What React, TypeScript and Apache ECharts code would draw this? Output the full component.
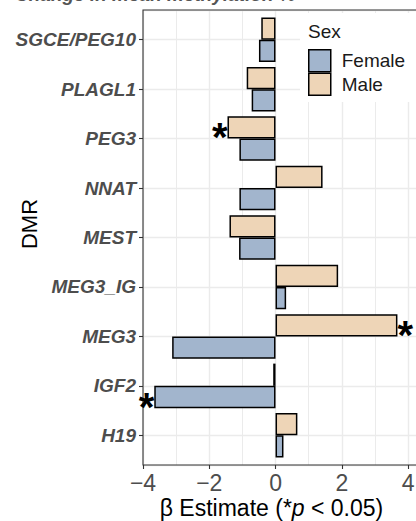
import React, { useEffect, useRef } from 'react';
import * as echarts from 'echarts';

const categories = ['SGCE/PEG10', 'PLAGL1', 'PEG3', 'NNAT', 'MEST', 'MEG3_IG', 'MEG3', 'IGF2', 'H19'];
const femaleValues = [-0.5, -0.72, -1.09, -1.09, -1.1, 0.32, -3.12, -3.66, 0.24];
const maleValues = [-0.43, -0.87, -1.45, 1.42, -1.39, 1.89, 3.68, -0.07, 0.66];
const femaleSignificant = [false, false, false, false, false, false, false, true, false];
const maleSignificant = [false, false, true, false, false, false, true, false, false];
const xTickLabels = [-4, -2, 0, 2, 4];
const legendNames = ['Female', 'Male'];
const titleText = 'Change in mean methylation %';
const yAxisTitle = 'DMR';
const legendTitle = 'Sex';

const FONT = '"Liberation Sans", Arial, Helvetica, sans-serif';
const FEMALE_COLOR = '#A2B5CD';
const MALE_COLOR = '#EED5B7';
const GRID_COLOR = '#ebebeb';

const X_MIN = -4;
const X_MAX = 6;
const PX_PER_UNIT = 33.13;
const PANEL_LEFT = 143;
const PANEL_TOP = 10;
const PANEL_HEIGHT = 455;
const PANEL_WIDTH = (X_MAX - X_MIN) * PX_PER_UNIT;
const BAND = PANEL_HEIGHT / (categories.length - 1 + 1.2);

function fmtTick(v: number) {
  if (!xTickLabels.some((t) => Math.abs(t - v) < 1e-6)) return '';
  return v < 0 ? '\u2212' + Math.abs(v) : String(v);
}

function barData(values: number[], sig: boolean[]) {
  return values.map((v, i) =>
    sig[i]
      ? {
          value: v,
          label: {
            show: true,
            position: v < 0 ? 'left' : 'right',
            formatter: '*',
            distance: 0,
            offset: [0, 10],
            fontSize: 40,
            fontWeight: 'bold',
            color: '#000',
            fontFamily: FONT,
          },
        }
      : v
  );
}

export default function App() {
  const ref = useRef<HTMLDivElement>(null);
  useEffect(() => {
    const chart = echarts.init(ref.current!, undefined, { renderer: 'svg' });
    const option: any = {
      animation: false,
      textStyle: { fontFamily: FONT },
      grid: [
        {
          left: PANEL_LEFT,
          top: PANEL_TOP,
          width: PANEL_WIDTH,
          height: PANEL_HEIGHT,
          containLabel: false,
          outerBoundsMode: 'none',
        },
        {
          left: PANEL_LEFT,
          top: PANEL_TOP + 0.1 * BAND,
          width: PANEL_WIDTH,
          height: BAND * categories.length,
          containLabel: false,
          outerBoundsMode: 'none',
        },
      ],
      xAxis: [
        {
          type: 'value',
          gridIndex: 0,
          min: X_MIN,
          max: X_MAX,
          interval: 2,
          position: 'bottom',
          axisLine: { show: false, onZero: false },
          axisTick: { show: true, length: 4, lineStyle: { color: '#333', width: 1.1 } },
          axisLabel: {
            formatter: fmtTick,
            fontSize: 23,
            color: '#4d4d4d',
            margin: 6,
            fontFamily: FONT,
          },
          splitLine: { show: true, lineStyle: { color: GRID_COLOR, width: 1.4 } },
          minorTick: { show: false, splitNumber: 2 },
          minorSplitLine: { show: true, lineStyle: { color: GRID_COLOR, width: 1 } },
        },
        {
          type: 'value',
          gridIndex: 1,
          min: X_MIN,
          max: X_MAX,
          show: false,
          axisLine: { onZero: false },
          splitLine: { show: false },
        },
      ],
      yAxis: [
        {
          type: 'value',
          gridIndex: 0,
          min: -0.6,
          max: categories.length - 1 + 0.6,
          inverse: true,
          splitNumber: categories.length,
          minInterval: 1,
          maxInterval: 1,
          axisLine: { show: false, onZero: false },
          axisTick: { show: false },
          axisLabel: { show: false },
          splitLine: { show: true, lineStyle: { color: GRID_COLOR, width: 1.4 } },
        },
        {
          type: 'category',
          gridIndex: 1,
          data: categories,
          inverse: true,
          position: 'left',
          axisLine: { show: false, onZero: false },
          axisTick: { show: true, alignWithLabel: true, length: 4, lineStyle: { color: '#333', width: 1.1 } },
          axisLabel: {
            fontSize: 19,
            fontWeight: 'bold',
            fontStyle: 'italic',
            color: '#4d4d4d',
            margin: 7,
            fontFamily: FONT,
          },
          splitLine: { show: false },
        },
      ],
      legend: {
        data: legendNames,
        orient: 'vertical',
        left: 308,
        top: 49,
        itemWidth: 22,
        itemHeight: 22,
        itemGap: 0,
        icon: 'rect',
        padding: 0,
        itemStyle: { borderColor: '#000', borderWidth: 1.5 },
        textStyle: { fontSize: 19, color: '#1a1a1a', fontFamily: FONT, lineHeight: 22, padding: [0, 0, 0, 6] },
        selectedMode: false,
      },
      graphic: [
        { type: 'rect', z: 1, shape: { x: 300, y: 13, width: 130, height: 89 }, style: { fill: '#fff' } },
        {
          type: 'rect',
          z: 1,
          shape: { x: PANEL_LEFT, y: PANEL_TOP, width: PANEL_WIDTH, height: PANEL_HEIGHT },
          style: { fill: 'none', stroke: '#333', lineWidth: 1.1 },
        },
        {
          type: 'text',
          z: 5,
          x: 308,
          y: 31,
          style: { text: legendTitle, fontSize: 19, fill: '#1a1a1a', fontFamily: FONT, verticalAlign: 'middle' },
        },
        {
          type: 'text',
          z: 5,
          x: 29,
          y: 224,
          rotation: Math.PI / 2,
          style: { text: yAxisTitle, fontSize: 22, fill: '#000', fontFamily: FONT, align: 'center', verticalAlign: 'middle' },
        },
        {
          type: 'text',
          z: 5,
          x: 271.5,
          y: 508,
          style: {
            text: '{a|\u03b2 Estimate (*}{b|p}{a| < 0.05)}',
            align: 'center',
            verticalAlign: 'middle',
            fill: '#000',
            fontSize: 23,
            fontFamily: FONT,
            rich: {
              a: { fontSize: 23, fontFamily: FONT, fill: '#000' },
              b: { fontSize: 23, fontFamily: FONT, fontStyle: 'italic', fill: '#000' },
            },
          },
        },
        {
          type: 'text',
          z: 5,
          x: 15,
          y: -6,
          style: {
            text: titleText,
            fontSize: 19,
            fontWeight: 'bold',
            fontStyle: 'italic',
            fill: '#555',
            fontFamily: FONT,
            verticalAlign: 'middle',
          },
        },
      ],
      series: [
        { type: 'scatter', xAxisIndex: 0, yAxisIndex: 0, data: [], silent: true },
        {
          name: 'Male',
          type: 'bar',
          xAxisIndex: 1,
          yAxisIndex: 1,
          barCategoryGap: '10%',
          barGap: '0%',
          itemStyle: { color: MALE_COLOR, borderColor: '#000', borderWidth: 1.5 },
          data: barData(maleValues, maleSignificant),
        },
        {
          name: 'Female',
          type: 'bar',
          xAxisIndex: 1,
          yAxisIndex: 1,
          barCategoryGap: '10%',
          barGap: '0%',
          itemStyle: { color: FEMALE_COLOR, borderColor: '#000', borderWidth: 1.5 },
          data: barData(femaleValues, femaleSignificant),
        },
      ],
    };
    chart.setOption(option);
    return () => chart.dispose();
  }, []);
  return <div ref={ref} style={{ position: 'absolute', left: 0, top: 0, width: 416, height: 521 }} />;
}
